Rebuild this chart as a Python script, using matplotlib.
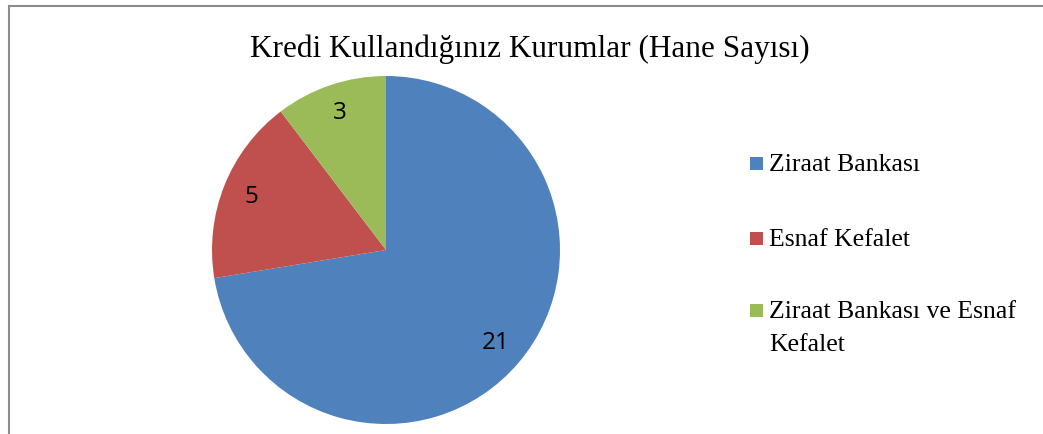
import matplotlib.pyplot as plt
from matplotlib.patches import Rectangle

# Veriler
kurumlar = ["Ziraat Bankası", "Esnaf Kefalet", "Ziraat Bankası ve Esnaf\nKefalet"]
hane_sayisi = [21, 5, 3]
renkler = ["#4F81BD", "#C0504D", "#9BBB59"]

W, H = 1043, 434
fig = plt.figure(figsize=(W / 100, H / 100), dpi=100)

# Çerçeve
fig.patches.append(Rectangle((8.5 / W, -0.1), 1.2, (H - 6.5) / H + 0.1,
                             transform=fig.transFigure, fill=False,
                             edgecolor="#8c8c8c", linewidth=1.5))

# Pasta grafiği
cx, cy, r = 386, 250, 174
ax = fig.add_axes([(cx - r) / W, (H - cy - r) / H, 2 * r / W, 2 * r / H])
ax.pie(hane_sayisi, colors=renkler, startangle=90, counterclock=False,
       autopct=lambda p: f"{round(p * sum(hane_sayisi) / 100):d}",
       pctdistance=0.83,
       textprops={"family": ["Open Sans", "DejaVu Sans"], "fontsize": 17.5, "color": "black"})
ax.set_xlim(-1, 1)
ax.set_ylim(-1, 1)
ax.set_aspect("equal")
ax.axis("off")

fig.text(530 / W, 1 - 57 / H, "Kredi Kullandığınız Kurumlar (Hane Sayısı)",
         ha="center", va="baseline", fontsize=22.5, family="Liberation Serif")

# Açıklama (legend)
y_satir = [171, 246, 318]
for kurum, renk, yb in zip(kurumlar, renkler, y_satir):
    fig.patches.append(Rectangle((750 / W, 1 - (yb - 1) / H), 13 / W, 13 / H,
                                 transform=fig.transFigure, facecolor=renk,
                                 edgecolor="none"))
    for i, satir in enumerate(kurum.split("\n")):
        fig.text(769 / W, 1 - (yb + 33 * i) / H, satir, ha="left", va="baseline",
                 fontsize=18.5, family="Liberation Serif")

fig.savefig("out.png", dpi=100, facecolor="white")
